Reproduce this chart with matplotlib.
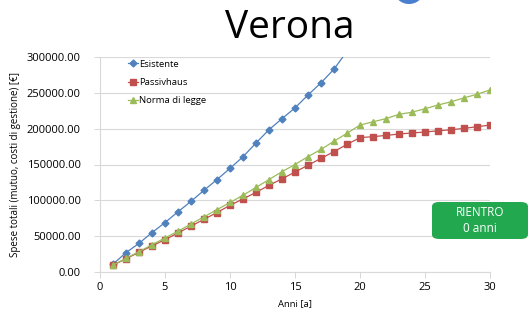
import numpy as np
import matplotlib
matplotlib.use('Agg')
import matplotlib.pyplot as plt
from matplotlib.patches import FancyBboxPatch, Ellipse

plt.rcParams['font.family'] = ['Open Sans', 'DejaVu Sans']

# dati
anni = list(range(1, 31))
esistente = [11000, 27000, 40000, 55000, 69000, 84000, 98600, 114000, 129000, 144600,
             160800, 180000, 198500, 214000, 229000, 247000, 264000, 283000, 308000]
passivhaus = [9500, 18500, 27500, 36500, 45000, 54500, 64000, 73500, 83000, 93000,
              102000, 111000, 121000, 130000, 139500, 149000, 158500, 168000, 178000, 187500,
              188800, 190600, 192500, 194000, 195300, 197000, 198500, 200400, 202700, 205000]
norma = [9500, 19000, 28500, 38000, 47500, 57000, 67000, 77000, 87000, 97000,
         107000, 118000, 129000, 140000, 150000, 161000, 171000, 182500, 193500, 205000,
         209600, 214000, 220000, 223000, 227800, 233000, 237500, 243000, 248000, 254000]
yticks = [0, 50000, 100000, 150000, 200000, 250000, 300000]
xticks = [0, 5, 10, 15, 20, 25, 30]

fig = plt.figure(figsize=(5.31, 3.13), dpi=100)
ax = fig.add_axes([100/531, 1 - 272/313, 390/531, 215/313])

ax.plot(anni[:len(esistente)], esistente, color='#4f81bd', marker='D', markersize=3.5,
        linewidth=0.9, label='Esistente')
ax.plot(anni, passivhaus, color='#c0504d', marker='s', markersize=4.5,
        linewidth=0.9, label='Passivhaus')
ax.plot(anni, norma, color='#9bbb59', marker='^', markersize=5,
        linewidth=0.9, label='Norma di legge')

ax.set_xlim(0, 30)
ax.set_ylim(0, 300000)
ax.set_xticks(xticks)
ax.set_yticks(yticks)
ax.set_yticklabels([f'{v:.2f}' for v in yticks])
ax.tick_params(axis='both', labelsize=8, colors='#d0d0d0', labelcolor='black',
               length=4, width=0.6)
ax.tick_params(axis='y', pad=10)
ax.grid(axis='y', color='#d9d9d9', linewidth=0.8)
ax.set_axisbelow(True)
for s in ['top', 'right']:
    ax.spines[s].set_visible(False)
ax.spines['left'].set_color('#d9d9d9')
ax.spines['bottom'].set_color('#d9d9d9')

ax.set_xlabel('Anni [a]', fontsize=6.8, labelpad=4)
ax.set_ylabel('Spese totali (mutuo, costi di gestione) [€]', fontsize=7, labelpad=4)

ax.legend(loc='upper left', bbox_to_anchor=(0.06, 1.01), frameon=False, fontsize=6.8,
          handlelength=1.0, handletextpad=0.2, labelspacing=1.0, borderpad=0)

fig.text(290/531, 1 - 28/313, 'Verona', fontsize=28, ha='center', va='center')

# riquadro rientro
box = FancyBboxPatch((432/531, 1 - 239/313), 96/531, 37/313,
                     boxstyle='round,pad=0,rounding_size=0.014',
                     transform=fig.transFigure, facecolor='#22a84f', edgecolor='none')
fig.patches.append(box)
fig.text(480/531, 1 - 220/313, 'RIENTRO\n0 anni', color='white', fontsize=8.5,
         ha='center', va='center', linespacing=1.3)

# cerchio blu in alto
circ = Ellipse((409/531, 1 + 8/313), 28/531, 24/313, transform=fig.transFigure,
               facecolor='#4a7fcf', edgecolor='none')
fig.patches.append(circ)

fig.savefig('out.png', dpi=100)
